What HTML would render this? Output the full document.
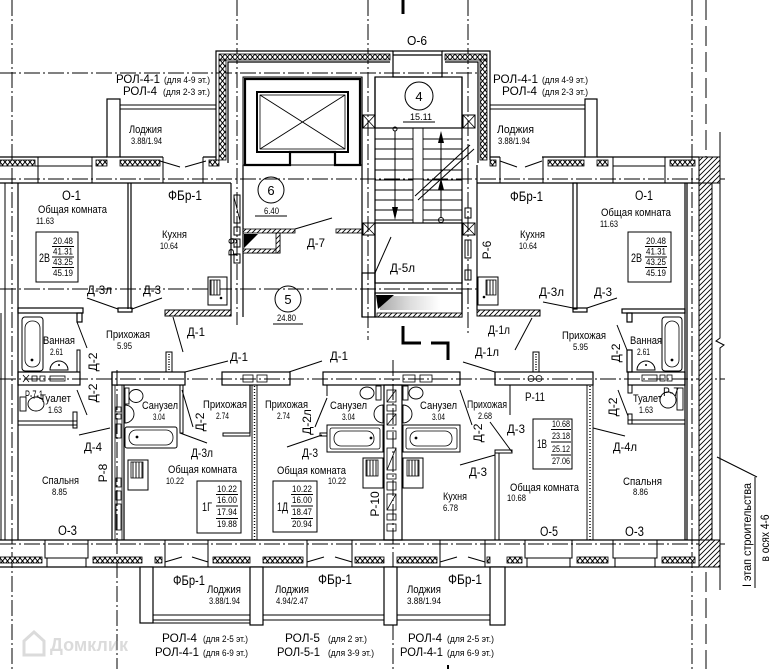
<!DOCTYPE html>
<html><head><meta charset="utf-8">
<style>
html,body{margin:0;padding:0;background:#fff;}
svg{display:block;}
text{font-family:"Liberation Sans","DejaVu Sans",sans-serif;fill:#000;stroke:none;}
</style></head><body>
<svg width="778" height="669" viewBox="0 0 778 669" xmlns="http://www.w3.org/2000/svg">
<defs>
<pattern id="ins" width="5" height="6" patternUnits="userSpaceOnUse"><rect width="5" height="6" fill="#fff"/><path d="M0,0L5,6M5,0L0,6" stroke="#000" stroke-width="1"/></pattern>
<pattern id="dg" width="5" height="5" patternUnits="userSpaceOnUse"><rect width="5" height="5" fill="#fff"/><path d="M-1,6L6,-1M-1,1L1,-1M4,6L6,4" stroke="#000" stroke-width="0.9"/></pattern>
<pattern id="st" width="3" height="10" patternUnits="userSpaceOnUse"><rect width="3" height="10" fill="#fff"/><path d="M1,0V10" stroke="#000" stroke-width="0.9"/></pattern>
<linearGradient id="gr" x1="0" y1="0" x2="1" y2="0"><stop offset="0" stop-color="#555"/><stop offset="0.5" stop-color="#bbb"/><stop offset="1" stop-color="#fff"/></linearGradient>
</defs>
<rect width="778" height="669" fill="#fff"/>

<!-- axis lines -->
<g stroke="#000" stroke-width="1" fill="none" stroke-dasharray="16,3,2,3">
<path d="M12,0V669"/>
<path d="M237,0V325"/>
<path d="M368,0V340"/>
<path d="M468,0V335"/>
<path d="M117,370V669"/>
<path d="M393,360V669"/>
<path d="M692,0V669"/>
<path d="M0,73H480"/>
<path d="M0,179H725"/>
<path d="M0,289H477"/>
<path d="M0,379H725"/>
<path d="M0,544H725"/>
</g>
<path d="M706,0V669" stroke="#000" stroke-width="1" stroke-dasharray="20,6" fill="none"/>
<path d="M403,0V14" stroke="#000" stroke-width="3"/>

<g fill="none" stroke="#000" stroke-width="1.2">
<!-- core top -->
<path d="M216,160V51H393M442,51H490V160"/>
<rect x="393" y="51" width="49" height="26"/>
<path d="M393,55H442"/>
<rect x="219" y="54" width="171" height="6" fill="url(#ins)" stroke-width="0.8"/>
<rect x="445" y="54" width="42" height="6" fill="url(#ins)" stroke-width="0.8"/>
<rect x="219" y="60" width="7" height="100" fill="url(#ins)" stroke-width="0.8"/>
<rect x="480" y="60" width="7" height="100" fill="url(#ins)" stroke-width="0.8"/>
<path d="M228,163V62H390M445,62H478V163"/>

<!-- elevator -->
<rect x="243" y="77" width="119" height="88" stroke-width="1"/>
<path d="M245,165V79H360V165H335V152H290V165Z" stroke-width="2.2"/>
<rect x="257" y="92" width="91" height="60" stroke-width="2"/>
<rect x="260" y="95" width="85" height="54" stroke-width="0.8"/>
<path d="M260,95L345,149M345,95L260,149" stroke-width="0.9"/>

<!-- lobby walls -->
<path d="M243,165V317"/>
<path d="M231,183V316"/>
<rect x="234" y="195" width="6" height="28" stroke-width="1"/>
<path d="M234,197L240,221" stroke-width="0.8"/>
<rect x="234" y="227" width="6" height="8" stroke-width="1"/>
<rect x="234" y="239" width="6" height="8" stroke-width="1"/>
<rect x="234" y="254" width="6" height="9" stroke-width="1"/>
<rect x="243" y="229" width="52" height="4" fill="url(#dg)" stroke-width="0.8"/>
<path d="M243,233V253H280V233" stroke-width="1"/>
<rect x="243" y="249" width="37" height="4" fill="url(#dg)" stroke-width="0.8"/>
<rect x="276" y="233" width="4" height="20" fill="url(#dg)" stroke-width="0.8"/>
<polygon points="244,234 258,234 244,248" fill="#000" stroke="none"/>
<rect x="336" y="229" width="26" height="4" fill="url(#dg)" stroke-width="0.8"/>

<!-- stair core -->
<path d="M362,77V317M375,77V317M462,77V310M477,165V310"/>
<rect x="375" y="77" width="87" height="51"/>
<rect x="363" y="115" width="12" height="13" stroke-width="1"/>
<path d="M363,115L375,128M375,115L363,128" stroke-width="0.8"/>
<rect x="463" y="115" width="12" height="13" stroke-width="1"/>
<path d="M463,115L475,128M475,115L463,128" stroke-width="0.8"/>
<rect x="363" y="223" width="12" height="12" stroke-width="1"/>
<path d="M363,223L375,235M375,223L363,235" stroke-width="0.8"/>
<rect x="463" y="223" width="12" height="12" stroke-width="1"/>
<path d="M463,223L475,235M475,223L463,235" stroke-width="0.8"/>
<rect x="465" y="208" width="6" height="10" stroke-width="1"/>
<rect x="465" y="240" width="6" height="18" stroke-width="1"/>
<rect x="465" y="270" width="6" height="10" stroke-width="1"/>
<g stroke-width="0.9">
<path d="M375,139H413M423,139H462M375,149H413M423,149H462M375,159H413M423,159H462M375,170H413M423,170H462M375,180H413M423,180H462M375,190H413M423,190H462M375,200H413M423,200H462M375,210H413M423,210H462M375,220H413M423,220H462"/>
<path d="M413,128V223M423,128V223"/>
</g>
<path d="M395,131V208M441,218V142" stroke-width="1"/>
<circle cx="395" cy="129" r="2" stroke-width="1"/>
<circle cx="441" cy="220" r="2.5" stroke-width="1"/>
<polygon points="392,207 398,207 395,220" fill="#000" stroke="none"/>
<polygon points="438,143 444,143 441,131" fill="#000" stroke="none"/>
<polygon points="438,190 444,190 441,178" fill="#000" stroke="none"/>
<path d="M415,196L470,145M418,200L474,149" stroke-width="1"/>
<rect x="375" y="223" width="87" height="60"/>
<rect x="362" y="273" width="13" height="44"/>
<rect x="375" y="293" width="87" height="24"/>
<rect x="380" y="296" width="60" height="14" fill="url(#gr)" stroke="none" opacity="0.5"/>
<rect x="377" y="313" width="85" height="4" fill="url(#dg)" stroke-width="0.8"/>
<polygon points="376,295 394,295 378,309" fill="#000" stroke="none"/>

<!-- top left loggia & wall -->
<rect x="107" y="99" width="13" height="58" fill="#fff"/>
<path d="M120,105H216M120,109H216" stroke-width="1"/>
<path d="M0,157H107M120,157H163M203,157H216"/>
<path d="M0,183H231"/>
<rect x="0" y="160" width="35" height="6" fill="url(#ins)" stroke-width="0.8"/>
<rect x="96" y="160" width="11" height="6" fill="url(#ins)" stroke-width="0.8"/>
<rect x="120" y="160" width="40" height="6" fill="url(#ins)" stroke-width="0.8"/>
<rect x="209" y="160" width="10" height="6" fill="url(#ins)" stroke-width="0.8"/>
<path d="M38,157V183M92,157V183M38,166H92M163,157V183M203,157V183" stroke-width="1"/>
<path d="M35,166H38M160,161L180,167M185,167L206,161" stroke-width="1"/>

<!-- top right loggia & wall -->
<rect x="585" y="99" width="12" height="58" fill="#fff"/>
<path d="M490,105H585M490,109H585" stroke-width="1"/>
<path d="M490,157H500M542,157H585M597,157H699"/>
<path d="M477,183H699"/>
<rect x="490" y="160" width="6" height="6" fill="url(#ins)" stroke-width="0.8"/>
<rect x="548" y="160" width="36" height="6" fill="url(#ins)" stroke-width="0.8"/>
<rect x="597" y="160" width="11" height="6" fill="url(#ins)" stroke-width="0.8"/>
<rect x="670" y="160" width="25" height="6" fill="url(#ins)" stroke-width="0.8"/>
<path d="M613,157V183M665,157V183M613,166H665M500,157V183M543,157V183" stroke-width="1"/>
<path d="M500,161L517,167M525,167L542,161" stroke-width="1"/>

<!-- right outer hatched wall -->
<rect x="699" y="157" width="21" height="26" fill="url(#dg)" stroke-width="1"/>
<rect x="699" y="183" width="13" height="357" fill="url(#dg)" stroke-width="1"/>
<rect x="699" y="540" width="21" height="27" fill="url(#dg)" stroke-width="1"/>
<path d="M720,132V338L716,341L724,345L720,348V590" stroke-width="1"/>
<path d="M717,457L757,477M755,477V588" stroke-width="1"/>

<!-- upper left apartment -->
<path d="M5,183V540M1,313V540" stroke-width="1"/>
<path d="M18,183V540"/>
<path d="M128,183V309M131,183V309"/>
<rect x="118" y="308" width="14" height="4"/>
<rect x="18" y="308" width="65" height="5"/>
<rect x="77" y="313" width="5" height="9"/>
<rect x="165" y="310" width="66" height="6" fill="url(#dg)" stroke-width="1"/>
<rect x="208" y="277" width="19" height="28" stroke-width="1"/>
<rect x="210" y="280" width="10" height="15" fill="url(#st)" stroke-width="0.8"/>
<circle cx="221" cy="298" r="1.3" fill="#000" stroke="none"/>
<!-- ванная left -->
<rect x="22" y="317" width="21" height="54" rx="3" stroke-width="1"/>
<rect x="25" y="321" width="15" height="46" rx="7" stroke-width="0.8"/>
<circle cx="32" cy="360" r="1.4" fill="#000" stroke="none"/>
<path d="M50,370A9,9 0 0 1 68,370Z" stroke-width="1"/>
<circle cx="59" cy="365" r="1" fill="#000" stroke="none"/>
<rect x="77" y="350" width="3" height="22" stroke-width="1"/>
<rect x="18" y="372" width="62" height="13"/>
<path d="M23,375L29,382M29,375L23,382" stroke-width="0.8"/>
<rect x="32" y="376" width="5" height="5" stroke-width="0.8"/>
<rect x="40" y="376" width="5" height="5" stroke-width="0.8"/>
<rect x="50" y="376" width="15" height="5" stroke-width="0.8"/>
<!-- туалет left -->
<rect x="20" y="397" width="6" height="14" stroke-width="0.9"/>
<ellipse cx="36" cy="404" rx="8" ry="7" stroke-width="0.9"/>
<rect x="18" y="421" width="59" height="4" stroke-width="1"/>
<rect x="73" y="412" width="4" height="16" stroke-width="1"/>
<!-- bedroom & P-8 -->
<path d="M112,372V540M124,385V540"/>
<path d="M115,385V540M122,385V540" stroke-width="0.8"/>
<rect x="116" y="407" width="5" height="5" stroke-width="0.8"/>
<rect x="116" y="414" width="5" height="5" stroke-width="0.8"/>
<rect x="116" y="424" width="5" height="14" stroke-width="0.8"/>
<rect x="116" y="478" width="5" height="9" stroke-width="0.8"/>
<rect x="116" y="491" width="5" height="9" stroke-width="0.8"/>
<rect x="116" y="504" width="5" height="26" stroke-width="0.8"/>

<!-- corridor wall pieces -->
<rect x="112" y="372" width="73" height="13"/>
<rect x="166" y="352" width="6" height="20" stroke-width="1"/>
<path d="M169,354V370" stroke-width="1.5" stroke-dasharray="1,1.5"/>
<rect x="222" y="372" width="68" height="13"/>
<rect x="243" y="375" width="10" height="7" stroke-width="0.8"/>
<rect x="257" y="375" width="10" height="7" stroke-width="0.8"/>
<rect x="323" y="372" width="137" height="13"/>
<rect x="403" y="375" width="12" height="7" stroke-width="0.8"/>
<rect x="420" y="375" width="12" height="7" stroke-width="0.8"/>
<rect x="495" y="372" width="98" height="13"/>
<circle cx="531" cy="378.5" r="3" stroke-width="0.8"/>
<circle cx="539" cy="378.5" r="3" stroke-width="0.8"/>
<rect x="533" y="352" width="6" height="20" stroke-width="1"/>
<path d="M536,354V370" stroke-width="1.5" stroke-dasharray="1,1.5"/>
<rect x="628" y="372" width="57" height="13"/>
<rect x="642" y="375" width="15" height="6" stroke-width="0.8"/>
<rect x="660" y="375" width="5" height="6" stroke-width="0.8"/>
<rect x="667" y="375" width="5" height="6" stroke-width="0.8"/>
<path d="M403,326V343H421M431,343H448V360" stroke-width="3"/>

<!-- 1Г -->
<rect x="125" y="388" width="4" height="16" stroke-width="0.9"/>
<ellipse cx="136" cy="396" rx="7" ry="6.5" stroke-width="0.9"/>
<path d="M125,405A9,9 0 0 1 125,423Z" stroke-width="0.9"/>
<rect x="125" y="427" width="52" height="21" rx="2" stroke-width="1"/>
<rect x="129" y="430" width="44" height="15" rx="7" stroke-width="0.8"/>
<circle cx="137" cy="437" r="1.4" fill="#000" stroke="none"/>
<rect x="180" y="385" width="3" height="48" stroke-width="1"/>
<rect x="223" y="433" width="27" height="3" stroke-width="1"/>
<path d="M250,385V433"/>
<rect x="128" y="460" width="20" height="30" stroke-width="1"/>
<rect x="131" y="462" width="12" height="16" fill="url(#st)" stroke-width="0.8"/>
<path d="M252,385V540M257,385V540" stroke-width="0.9"/>
<path d="M254.5,386V540" stroke-width="1.4" stroke-dasharray="1,2"/>

<!-- 1Д -->
<path d="M327,385V396" stroke-width="1"/>
<rect x="320" y="433" width="7" height="3" stroke-width="1"/>
<rect x="327" y="425" width="56" height="27" stroke-width="1"/>
<rect x="330" y="428" width="50" height="21" rx="2" stroke-width="0.8"/>
<rect x="334" y="431" width="40" height="15" rx="7" stroke-width="0.8"/>
<circle cx="371" cy="438" r="1.4" fill="#000" stroke="none"/>
<rect x="376" y="386" width="5" height="14" stroke-width="0.9"/>
<ellipse cx="367" cy="393" rx="7" ry="6" stroke-width="0.9"/>
<path d="M383,405A9,9 0 0 0 383,423Z" stroke-width="0.9"/>
<rect x="363" y="458" width="20" height="30" stroke-width="1"/>
<rect x="366" y="460" width="12" height="16" fill="url(#st)" stroke-width="0.8"/>
<rect x="384" y="385" width="18" height="155"/>
<g stroke-width="0.8">
<rect x="387" y="390" width="9" height="12"/><path d="M387,402L396,390"/>
<rect x="387" y="405" width="9" height="6"/>
<rect x="387" y="414" width="9" height="11"/><path d="M387,425L396,414"/>
<rect x="387" y="431" width="9" height="8"/>
<rect x="387" y="448" width="9" height="22"/><path d="M387,470L396,448"/>
<rect x="387" y="474" width="9" height="5"/>
<rect x="387" y="482" width="9" height="8"/>
<rect x="387" y="494" width="9" height="16"/><path d="M387,510L396,494"/>
<rect x="387" y="514" width="9" height="6"/>
<rect x="387" y="524" width="9" height="7"/>
</g>

<!-- 1В -->
<rect x="403" y="458" width="20" height="30" stroke-width="1"/>
<rect x="407" y="460" width="12" height="16" fill="url(#st)" stroke-width="0.8"/>
<rect x="403" y="386" width="5" height="14" stroke-width="0.9"/>
<ellipse cx="416" cy="393" rx="7" ry="6" stroke-width="0.9"/>
<path d="M403,405A9,9 0 0 1 403,423Z" stroke-width="0.9"/>
<rect x="403" y="425" width="57" height="27" stroke-width="1"/>
<rect x="406" y="428" width="51" height="21" rx="2" stroke-width="0.8"/>
<rect x="410" y="431" width="42" height="15" rx="7" stroke-width="0.8"/>
<circle cx="416" cy="438" r="1.4" fill="#000" stroke="none"/>
<rect x="495" y="450" width="17" height="3" stroke-width="1"/>
<rect x="495" y="453" width="4" height="87" stroke-width="1"/>
<path d="M510,385V415" stroke-width="1"/>
<path d="M587,385V540M593,385V540" stroke-width="0.9"/>
<path d="M590,386V540" stroke-width="1.4" stroke-dasharray="1,2"/>

<!-- upper right apartment -->
<rect x="477" y="310" width="63" height="6" fill="url(#dg)" stroke-width="1"/>
<rect x="478" y="277" width="20" height="28" stroke-width="1"/>
<rect x="486" y="280" width="10" height="15" fill="url(#st)" stroke-width="0.8"/>
<circle cx="484" cy="297" r="1.3" fill="#000" stroke="none"/>
<rect x="573" y="183" width="4" height="126"/>
<rect x="573" y="308" width="14" height="4"/>
<path d="M685,183V540M687,183V540"/>
<rect x="622" y="309" width="63" height="4"/>
<rect x="627" y="313" width="5" height="9"/>
<rect x="627" y="350" width="5" height="22"/>
<rect x="662" y="317" width="20" height="54" rx="3" stroke-width="1"/>
<rect x="665" y="321" width="14" height="46" rx="7" stroke-width="0.8"/>
<circle cx="672" cy="360" r="1.4" fill="#000" stroke="none"/>
<path d="M637,370A9,9 0 0 1 655,370Z" stroke-width="1"/>
<circle cx="646" cy="365" r="1" fill="#000" stroke="none"/>
<rect x="628" y="385" width="4" height="8" stroke-width="1"/>
<rect x="628" y="414" width="4" height="10" stroke-width="1"/>
<rect x="628" y="420" width="57" height="4" stroke-width="1"/>
<rect x="677" y="388" width="6" height="22" stroke-width="0.9"/>
<ellipse cx="668" cy="400" rx="8" ry="8" stroke-width="0.9"/>

<!-- door leaves -->
<g stroke-width="1">
<path d="M295,229L332,218"/>
<path d="M375,273L391,237"/>
<path d="M87,298L118,309M132,309L162,298"/>
<path d="M173,317L183,352"/>
<path d="M77,322L87,348"/>
<path d="M77,390L87,415"/>
<path d="M79,435L110,428"/>
<path d="M185,372L228,361M289,372L322,361M463,362L495,372"/>
<path d="M543,302L573,308M587,308L617,298"/>
<path d="M532,318L515,350"/>
<path d="M617,325L627,350"/>
<path d="M618,390L628,416"/>
<path d="M593,428L625,436"/>
<path d="M182,390L193,427"/>
<path d="M180,433L207,443"/>
<path d="M327,398L315,427"/>
<path d="M287,447L322,435"/>
<path d="M460,390L472,425"/>
<path d="M460,465L495,455"/>
<path d="M490,422L512,452"/>
</g>

<!-- bottom wall -->
<path d="M0,540H699M0,567H699"/>
<g stroke-width="0.8">
<rect x="0" y="557" width="42" height="6" fill="url(#ins)"/>
<rect x="93" y="557" width="49" height="6" fill="url(#ins)"/>
<rect x="155" y="557" width="7" height="6" fill="url(#ins)"/>
<rect x="213" y="557" width="37" height="6" fill="url(#ins)"/>
<rect x="263" y="557" width="40" height="6" fill="url(#ins)"/>
<rect x="355" y="557" width="29" height="6" fill="url(#ins)"/>
<rect x="397" y="557" width="40" height="6" fill="url(#ins)"/>
<rect x="487" y="557" width="3" height="6" fill="url(#ins)"/>
<rect x="507" y="557" width="15" height="6" fill="url(#ins)"/>
<rect x="577" y="557" width="31" height="6" fill="url(#ins)"/>
<rect x="662" y="557" width="33" height="6" fill="url(#ins)"/>
</g>
<g stroke-width="1">
<rect x="45" y="540" width="43" height="18"/><rect x="47" y="558" width="39" height="9"/>
<rect x="525" y="540" width="47" height="18"/><rect x="527" y="558" width="43" height="9"/>
<rect x="613" y="540" width="44" height="18"/><rect x="615" y="558" width="40" height="9"/>
<path d="M165,540V567M208,540V567M165,562L182,557M192,557L208,562"/>
<path d="M307,540V567M352,540V567M307,562L324,557M335,557L352,562"/>
<path d="M440,540V567M485,540V567M440,562L457,557M468,557L485,562"/>
</g>
<!-- bottom loggias -->
<rect x="140" y="567" width="13" height="56" fill="#fff"/>
<rect x="250" y="567" width="13" height="58" fill="#fff"/>
<rect x="384" y="567" width="13" height="58" fill="#fff"/>
<rect x="490" y="567" width="15" height="58" fill="#fff"/>
<path d="M153,615H250M153,620H250M140,623H250M263,615H384M263,620H384M397,615H490M397,620H490" stroke-width="1"/>
</g>

<!-- circles -->
<g fill="none" stroke="#000" stroke-width="1">
<circle cx="419" cy="96" r="14"/>
<circle cx="271" cy="190" r="13"/>
<circle cx="288" cy="299" r="13"/>
<path d="M403,122H435M255,216H287M273,324H303"/>
<rect x="36" y="232" width="42" height="50"/>
<path d="M52,246.5H74M52,257H74M52,267.5H74"/>
<rect x="628" y="232" width="43" height="50"/>
<path d="M645,246.5H667M645,257H667M645,267.5H667"/>
<rect x="197" y="481" width="44" height="52"/>
<path d="M216,494.5H238M216,506H238M216,518.5H238"/>
<rect x="273" y="481" width="44" height="51"/>
<path d="M291,494.5H313M291,506H313M291,518.5H313"/>
<rect x="533" y="419" width="39" height="50"/>
<path d="M551,429.5H571M551,442H571M551,455H571"/>
</g>

<!-- watermark -->
<g opacity="0.35">
<path d="M24,655V641L34,632L44,641V655Z" fill="none" stroke="#999" stroke-width="3"/>
<text x="50" y="651" font-size="18" font-weight="bold" fill="#999" style="fill:#999" textLength="78" lengthAdjust="spacingAndGlyphs">Домклик</text>
</g>

<!-- texts -->
<g>
<text x="116" y="83" font-size="12" textLength="44" lengthAdjust="spacingAndGlyphs">РОЛ-4-1</text>
<text x="164" y="83" font-size="9" textLength="46" lengthAdjust="spacingAndGlyphs">(для 4-9 эт.)</text>
<text x="123" y="95" font-size="12" textLength="34" lengthAdjust="spacingAndGlyphs">РОЛ-4</text>
<text x="163" y="95" font-size="9" textLength="47" lengthAdjust="spacingAndGlyphs">(для 2-3 эт.)</text>
<text x="493" y="83" font-size="12" textLength="45" lengthAdjust="spacingAndGlyphs">РОЛ-4-1</text>
<text x="542" y="83" font-size="9" textLength="46" lengthAdjust="spacingAndGlyphs">(для 4-9 эт.)</text>
<text x="502" y="95" font-size="12" textLength="35" lengthAdjust="spacingAndGlyphs">РОЛ-4</text>
<text x="542" y="95" font-size="9" textLength="46" lengthAdjust="spacingAndGlyphs">(для 2-3 эт.)</text>
<text x="129" y="133" font-size="11" textLength="33" lengthAdjust="spacingAndGlyphs">Лоджия</text>
<text x="131" y="144" font-size="9" textLength="31" lengthAdjust="spacingAndGlyphs">3.88/1.94</text>
<text x="497" y="133" font-size="11" textLength="37" lengthAdjust="spacingAndGlyphs">Лоджия</text>
<text x="498" y="144" font-size="9" textLength="32" lengthAdjust="spacingAndGlyphs">3.88/1.94</text>
<text x="407" y="45" font-size="13" textLength="20" lengthAdjust="spacingAndGlyphs">О-6</text>
<text x="419" y="101" font-size="13" text-anchor="middle">4</text>
<text x="410" y="120" font-size="9" textLength="22" lengthAdjust="spacingAndGlyphs">15.11</text>
<text x="271" y="195" font-size="13" text-anchor="middle">6</text>
<text x="264" y="214" font-size="9" textLength="15" lengthAdjust="spacingAndGlyphs">6.40</text>
<text x="288" y="304" font-size="13" text-anchor="middle">5</text>
<text x="277" y="321" font-size="9" textLength="19" lengthAdjust="spacingAndGlyphs">24.80</text>
<text x="307" y="247" font-size="12" textLength="18" lengthAdjust="spacingAndGlyphs">Д-7</text>
<text x="390" y="272" font-size="12" textLength="25" lengthAdjust="spacingAndGlyphs">Д-5л</text>

<!-- upper left apt -->
<text x="62" y="200" font-size="13.5" textLength="19" lengthAdjust="spacingAndGlyphs">О-1</text>
<text x="38" y="213" font-size="11" textLength="69" lengthAdjust="spacingAndGlyphs">Общая комната</text>
<text x="36" y="224" font-size="9.5" textLength="18" lengthAdjust="spacingAndGlyphs">11.63</text>
<text x="168" y="200" font-size="13.5" textLength="34" lengthAdjust="spacingAndGlyphs">ФБр-1</text>
<text x="162" y="238" font-size="11" textLength="25" lengthAdjust="spacingAndGlyphs">Кухня</text>
<text x="160" y="249" font-size="9.5" textLength="18" lengthAdjust="spacingAndGlyphs">10.64</text>
<text x="39" y="262" font-size="12" textLength="11" lengthAdjust="spacingAndGlyphs">2В</text>
<text x="53" y="244" font-size="9.5" textLength="20" lengthAdjust="spacingAndGlyphs">20.48</text>
<text x="53" y="254.5" font-size="9.5" textLength="20" lengthAdjust="spacingAndGlyphs">41.31</text>
<text x="53" y="265" font-size="9.5" textLength="20" lengthAdjust="spacingAndGlyphs">43.25</text>
<text x="53" y="276" font-size="9.5" textLength="20" lengthAdjust="spacingAndGlyphs">45.19</text>
<text transform="translate(237,247) rotate(-90)" font-size="12" text-anchor="middle">Р-9</text>
<text x="87" y="294" font-size="12" textLength="25" lengthAdjust="spacingAndGlyphs">Д-3л</text>
<text x="143" y="294" font-size="12" textLength="18" lengthAdjust="spacingAndGlyphs">Д-3</text>
<text x="187" y="336" font-size="12" textLength="18" lengthAdjust="spacingAndGlyphs">Д-1</text>
<text x="106" y="338" font-size="11" textLength="44" lengthAdjust="spacingAndGlyphs">Прихожая</text>
<text x="117" y="349" font-size="9.5" textLength="15" lengthAdjust="spacingAndGlyphs">5.95</text>
<text x="43" y="344" font-size="11" textLength="32" lengthAdjust="spacingAndGlyphs">Ванная</text>
<text x="50" y="355" font-size="9.5" textLength="13" lengthAdjust="spacingAndGlyphs">2.61</text>
<text transform="translate(97,362) rotate(-90)" font-size="12" text-anchor="middle">Д-2</text>
<text transform="translate(97,393) rotate(-90)" font-size="12" text-anchor="middle">Д-2</text>
<text x="230" y="361" font-size="12" textLength="18" lengthAdjust="spacingAndGlyphs">Д-1</text>
<text x="330" y="360" font-size="12" textLength="18" lengthAdjust="spacingAndGlyphs">Д-1</text>
<text x="25" y="399" font-size="12" textLength="18" lengthAdjust="spacingAndGlyphs">Р-7-1</text>
<text x="40" y="402" font-size="11" textLength="31" lengthAdjust="spacingAndGlyphs">Туалет</text>
<text x="48" y="413" font-size="9.5" textLength="14" lengthAdjust="spacingAndGlyphs">1.63</text>
<text x="84" y="451" font-size="12" textLength="18" lengthAdjust="spacingAndGlyphs">Д-4</text>
<text x="42" y="484" font-size="11" textLength="37" lengthAdjust="spacingAndGlyphs">Спальня</text>
<text x="52" y="495" font-size="9.5" textLength="15" lengthAdjust="spacingAndGlyphs">8.85</text>
<text transform="translate(107,473) rotate(-90)" font-size="12" text-anchor="middle">Р-8</text>
<text x="58" y="535" font-size="13.5" textLength="19" lengthAdjust="spacingAndGlyphs">О-3</text>

<!-- 1Г -->
<text x="142" y="409" font-size="11" textLength="36" lengthAdjust="spacingAndGlyphs">Санузел</text>
<text x="153" y="420" font-size="9.5" textLength="12" lengthAdjust="spacingAndGlyphs">3.04</text>
<text x="203" y="408" font-size="11" textLength="44" lengthAdjust="spacingAndGlyphs">Прихожая</text>
<text x="216" y="419" font-size="9.5" textLength="13" lengthAdjust="spacingAndGlyphs">2.74</text>
<text transform="translate(204,422) rotate(-90)" font-size="12" text-anchor="middle">Д-2</text>
<text x="191" y="457" font-size="12" textLength="22" lengthAdjust="spacingAndGlyphs">Д-3л</text>
<text x="168" y="473" font-size="11" textLength="69" lengthAdjust="spacingAndGlyphs">Общая комната</text>
<text x="166" y="484" font-size="9.5" textLength="18" lengthAdjust="spacingAndGlyphs">10.22</text>
<text x="202" y="511" font-size="12" textLength="10" lengthAdjust="spacingAndGlyphs">1Г</text>
<text x="217" y="492" font-size="9" textLength="20" lengthAdjust="spacingAndGlyphs">10.22</text>
<text x="217" y="503" font-size="9" textLength="20" lengthAdjust="spacingAndGlyphs">16.00</text>
<text x="217" y="515" font-size="9" textLength="20" lengthAdjust="spacingAndGlyphs">17.94</text>
<text x="217" y="527" font-size="9" textLength="20" lengthAdjust="spacingAndGlyphs">19.88</text>

<!-- 1Д -->
<text x="265" y="408" font-size="11" textLength="43" lengthAdjust="spacingAndGlyphs">Прихожая</text>
<text x="277" y="419" font-size="9.5" textLength="13" lengthAdjust="spacingAndGlyphs">2.74</text>
<text transform="translate(311,422) rotate(-90)" font-size="12" text-anchor="middle">Д-2л</text>
<text x="330" y="409" font-size="11" textLength="37" lengthAdjust="spacingAndGlyphs">Санузел</text>
<text x="342" y="420" font-size="9.5" textLength="13" lengthAdjust="spacingAndGlyphs">3.04</text>
<text x="302" y="457" font-size="12" textLength="16" lengthAdjust="spacingAndGlyphs">Д-3</text>
<text x="277" y="474" font-size="11" textLength="69" lengthAdjust="spacingAndGlyphs">Общая комната</text>
<text x="328" y="484" font-size="9.5" textLength="18" lengthAdjust="spacingAndGlyphs">10.22</text>
<text x="277" y="511" font-size="12" textLength="11" lengthAdjust="spacingAndGlyphs">1Д</text>
<text x="292" y="492" font-size="9" textLength="20" lengthAdjust="spacingAndGlyphs">10.22</text>
<text x="292" y="503" font-size="9" textLength="20" lengthAdjust="spacingAndGlyphs">16.00</text>
<text x="292" y="515" font-size="9" textLength="20" lengthAdjust="spacingAndGlyphs">18.47</text>
<text x="292" y="527" font-size="9" textLength="20" lengthAdjust="spacingAndGlyphs">20.94</text>
<text transform="translate(379,504) rotate(-90)" font-size="12" text-anchor="middle">Р-10</text>

<!-- 1В -->
<text x="420" y="409" font-size="11" textLength="37" lengthAdjust="spacingAndGlyphs">Санузел</text>
<text x="432" y="420" font-size="9.5" textLength="13" lengthAdjust="spacingAndGlyphs">3.04</text>
<text x="467" y="408" font-size="11" textLength="40" lengthAdjust="spacingAndGlyphs">Прихожая</text>
<text x="478" y="419" font-size="9.5" textLength="14" lengthAdjust="spacingAndGlyphs">2.68</text>
<text transform="translate(482,433) rotate(-90)" font-size="12" text-anchor="middle">Д-2</text>
<text x="469" y="476" font-size="12" textLength="18" lengthAdjust="spacingAndGlyphs">Д-3</text>
<text x="443" y="500" font-size="11" textLength="24" lengthAdjust="spacingAndGlyphs">Кухня</text>
<text x="443" y="511" font-size="9.5" textLength="15" lengthAdjust="spacingAndGlyphs">6.78</text>
<text x="525" y="401" font-size="12" textLength="20" lengthAdjust="spacingAndGlyphs">Р-11</text>
<text x="507" y="433" font-size="12" textLength="18" lengthAdjust="spacingAndGlyphs">Д-3</text>
<text x="537" y="448" font-size="12" textLength="10" lengthAdjust="spacingAndGlyphs">1В</text>
<text x="552" y="427" font-size="9" textLength="18" lengthAdjust="spacingAndGlyphs">10.68</text>
<text x="552" y="439" font-size="9" textLength="18" lengthAdjust="spacingAndGlyphs">23.18</text>
<text x="552" y="452" font-size="9" textLength="18" lengthAdjust="spacingAndGlyphs">25.12</text>
<text x="552" y="464" font-size="9" textLength="18" lengthAdjust="spacingAndGlyphs">27.06</text>
<text x="510" y="491" font-size="11" textLength="69" lengthAdjust="spacingAndGlyphs">Общая комната</text>
<text x="507" y="501" font-size="9.5" textLength="19" lengthAdjust="spacingAndGlyphs">10.68</text>
<text x="540" y="536" font-size="13.5" textLength="18" lengthAdjust="spacingAndGlyphs">О-5</text>
<text x="625" y="536" font-size="13.5" textLength="19" lengthAdjust="spacingAndGlyphs">О-3</text>

<!-- right lower -->
<text x="623" y="485" font-size="11" textLength="39" lengthAdjust="spacingAndGlyphs">Спальня</text>
<text x="633" y="495" font-size="9.5" textLength="15" lengthAdjust="spacingAndGlyphs">8.86</text>
<text x="613" y="451" font-size="12" textLength="24" lengthAdjust="spacingAndGlyphs">Д-4л</text>
<text transform="translate(617,407) rotate(-90)" font-size="12" text-anchor="middle">Д-2</text>
<text x="633" y="402" font-size="11" textLength="29" lengthAdjust="spacingAndGlyphs">Туалет</text>
<text x="639" y="413" font-size="9.5" textLength="14" lengthAdjust="spacingAndGlyphs">1.63</text>
<text x="663" y="396" font-size="12" textLength="16" lengthAdjust="spacingAndGlyphs">Р-7</text>
<text transform="translate(751,535) rotate(-90)" font-size="12" text-anchor="middle" textLength="104" lengthAdjust="spacingAndGlyphs">I этап строительства</text>
<text transform="translate(769,538) rotate(-90)" font-size="12" text-anchor="middle" textLength="47" lengthAdjust="spacingAndGlyphs">в осях 4-6</text>

<!-- upper right apt -->
<text x="510" y="201" font-size="13.5" textLength="33" lengthAdjust="spacingAndGlyphs">ФБр-1</text>
<text x="635" y="200" font-size="13.5" textLength="18" lengthAdjust="spacingAndGlyphs">О-1</text>
<text x="601" y="216" font-size="11" textLength="70" lengthAdjust="spacingAndGlyphs">Общая комната</text>
<text x="600" y="227" font-size="9.5" textLength="18" lengthAdjust="spacingAndGlyphs">11.63</text>
<text x="520" y="238" font-size="11" textLength="25" lengthAdjust="spacingAndGlyphs">Кухня</text>
<text x="519" y="249" font-size="9.5" textLength="18" lengthAdjust="spacingAndGlyphs">10.64</text>
<text x="631" y="262" font-size="12" textLength="11" lengthAdjust="spacingAndGlyphs">2В</text>
<text x="646" y="244" font-size="9.5" textLength="20" lengthAdjust="spacingAndGlyphs">20.48</text>
<text x="646" y="254.5" font-size="9.5" textLength="20" lengthAdjust="spacingAndGlyphs">41.31</text>
<text x="646" y="265" font-size="9.5" textLength="20" lengthAdjust="spacingAndGlyphs">43.25</text>
<text x="646" y="276" font-size="9.5" textLength="20" lengthAdjust="spacingAndGlyphs">45.19</text>
<text transform="translate(491,250) rotate(-90)" font-size="12" text-anchor="middle">Р-6</text>
<text x="539" y="296" font-size="12" textLength="25" lengthAdjust="spacingAndGlyphs">Д-3л</text>
<text x="594" y="296" font-size="12" textLength="18" lengthAdjust="spacingAndGlyphs">Д-3</text>
<text x="488" y="334" font-size="12" textLength="22" lengthAdjust="spacingAndGlyphs">Д-1л</text>
<text x="475" y="356" font-size="12" textLength="24" lengthAdjust="spacingAndGlyphs">Д-1л</text>
<text x="562" y="339" font-size="11" textLength="44" lengthAdjust="spacingAndGlyphs">Прихожая</text>
<text x="573" y="350" font-size="9.5" textLength="15" lengthAdjust="spacingAndGlyphs">5.95</text>
<text x="630" y="344" font-size="11" textLength="32" lengthAdjust="spacingAndGlyphs">Ванная</text>
<text x="637" y="355" font-size="9.5" textLength="13" lengthAdjust="spacingAndGlyphs">2.61</text>
<text transform="translate(620,353) rotate(-90)" font-size="12" text-anchor="middle">Д-2</text>

<!-- bottom loggias -->
<text x="173" y="585" font-size="13.5" textLength="32" lengthAdjust="spacingAndGlyphs">ФБр-1</text>
<text x="207" y="593" font-size="11" textLength="34" lengthAdjust="spacingAndGlyphs">Лоджия</text>
<text x="209" y="604" font-size="9" textLength="31" lengthAdjust="spacingAndGlyphs">3.88/1.94</text>
<text x="318" y="584" font-size="13.5" textLength="34" lengthAdjust="spacingAndGlyphs">ФБр-1</text>
<text x="275" y="593" font-size="11" textLength="34" lengthAdjust="spacingAndGlyphs">Лоджия</text>
<text x="276" y="604" font-size="9" textLength="32" lengthAdjust="spacingAndGlyphs">4.94/2.47</text>
<text x="448" y="584" font-size="13.5" textLength="34" lengthAdjust="spacingAndGlyphs">ФБр-1</text>
<text x="407" y="593" font-size="11" textLength="34" lengthAdjust="spacingAndGlyphs">Лоджия</text>
<text x="407" y="604" font-size="9" textLength="34" lengthAdjust="spacingAndGlyphs">3.88/1.94</text>
<text x="162" y="642" font-size="12" textLength="35" lengthAdjust="spacingAndGlyphs">РОЛ-4</text>
<text x="203" y="642" font-size="9" textLength="45" lengthAdjust="spacingAndGlyphs">(для 2-5 эт.)</text>
<text x="155" y="656" font-size="12" textLength="44" lengthAdjust="spacingAndGlyphs">РОЛ-4-1</text>
<text x="203" y="656" font-size="9" textLength="45" lengthAdjust="spacingAndGlyphs">(для 6-9 эт.)</text>
<text x="285" y="642" font-size="12" textLength="35" lengthAdjust="spacingAndGlyphs">РОЛ-5</text>
<text x="328" y="642" font-size="9" textLength="39" lengthAdjust="spacingAndGlyphs">(для 2 эт.)</text>
<text x="277" y="656" font-size="12" textLength="43" lengthAdjust="spacingAndGlyphs">РОЛ-5-1</text>
<text x="328" y="656" font-size="9" textLength="46" lengthAdjust="spacingAndGlyphs">(для 3-9 эт.)</text>
<text x="408" y="642" font-size="12" textLength="34" lengthAdjust="spacingAndGlyphs">РОЛ-4</text>
<text x="447" y="642" font-size="9" textLength="47" lengthAdjust="spacingAndGlyphs">(для 2-5 эт.)</text>
<text x="400" y="656" font-size="12" textLength="43" lengthAdjust="spacingAndGlyphs">РОЛ-4-1</text>
<text x="447" y="656" font-size="9" textLength="47" lengthAdjust="spacingAndGlyphs">(для 6-9 эт.)</text>
</g>
<rect x="447" y="665" width="2" height="4" fill="#000"/>
</svg>
</body></html>
